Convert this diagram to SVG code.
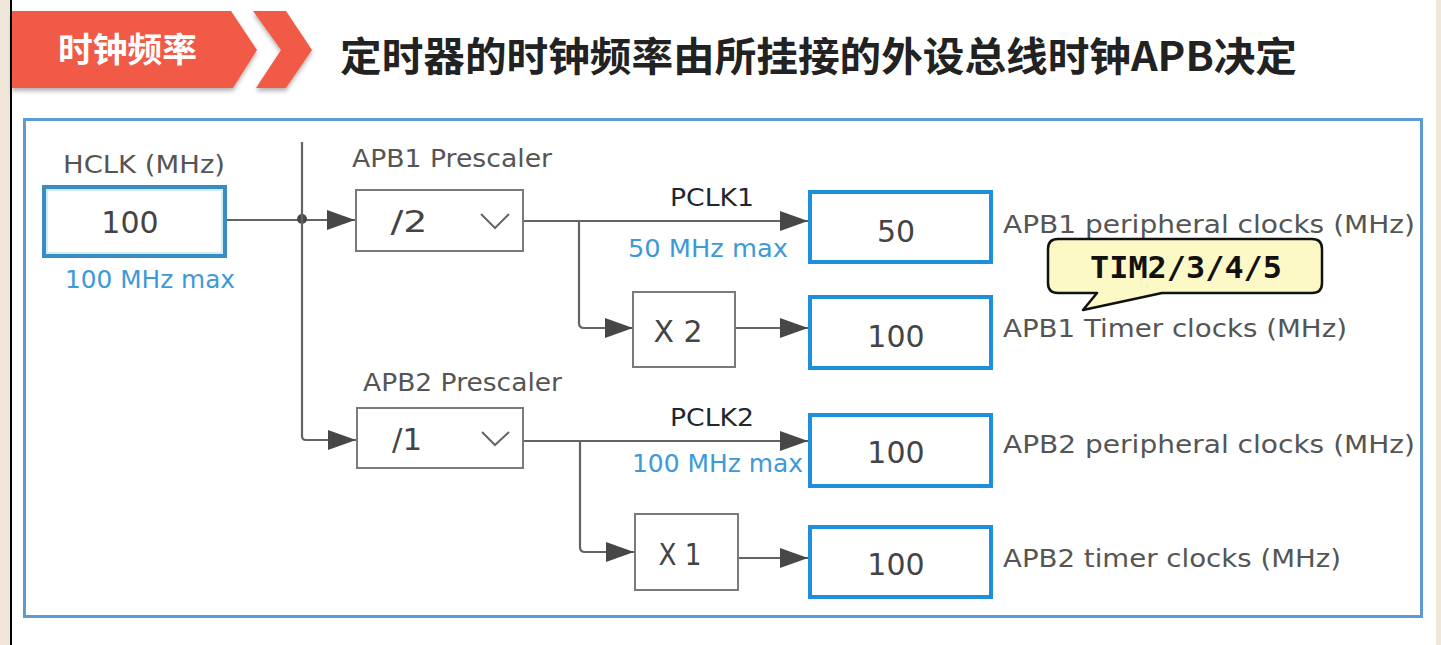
<svg xmlns="http://www.w3.org/2000/svg" width="1441" height="645" viewBox="0 0 1441 645">
<style>
.lbl{font-family:"DejaVu Sans","Liberation Sans",sans-serif;font-size:24px;fill:#555;}
.val{font-family:"DejaVu Sans","Liberation Sans",sans-serif;font-size:30px;fill:#444;text-anchor:middle;}
.blue{font-family:"DejaVu Sans","Liberation Sans",sans-serif;font-size:24px;fill:#3d9ad6;}
.pclk{font-family:"DejaVu Sans","Liberation Sans",sans-serif;font-size:25px;fill:#1e2833;}
.gbox{fill:#fff;stroke:#7a7a7a;stroke-width:2;}
.obox{fill:#fff;stroke:#1e8fdc;stroke-width:4;}
.wire{fill:none;stroke:#636363;stroke-width:2.2;}
.chev{fill:none;stroke:#666;stroke-width:2;}
</style>
<defs>
<marker id="arr" markerUnits="userSpaceOnUse" markerWidth="28" markerHeight="20" refX="28" refY="10" orient="auto">
<path d="M0,0 L28,10 L0,20 Z" fill="#474747"/>
</marker>
<filter id="sh" x="-10%" y="-10%" width="120%" height="140%">
<feDropShadow dx="0" dy="3" stdDeviation="2" flood-color="#000" flood-opacity="0.3"/>
</filter>
</defs>
<rect width="1441" height="645" fill="#fff"/>
<rect x="0" y="0" width="10" height="645" fill="#efe8da"/>
<line x1="11" y1="0" x2="11" y2="645" stroke="#000" stroke-width="2"/>
<rect x="1436" y="0" width="5" height="645" fill="#efe8da"/>

<g id="header">
<path d="M12,11 L231,11 L257,50 L233,88 L12,88 Z" fill="#f05a46" filter="url(#sh)"/>
<path d="M253,11 L286,11 L312,50 L286,88 L256,88 L281,50 Z" fill="#f05a46" filter="url(#sh)"/>
<text x="58" y="62" font-family="'Noto Sans CJK SC',sans-serif" font-weight="bold" font-size="34" fill="#fff" textLength="139" lengthAdjust="spacingAndGlyphs">时钟频率</text>
</g>
<text id="title" x="340" y="71" font-family="'Noto Sans CJK SC',sans-serif" font-weight="bold" font-size="40" fill="#222" textLength="957" lengthAdjust="spacingAndGlyphs">定时器的时钟频率由所挂接的外设总线时钟APB决定</text>

<rect id="frame" x="24.5" y="119.5" width="1397" height="497" fill="none" stroke="#5b9bd5" stroke-width="3"/>

<g id="connectors">
<path class="wire" d="M227,220 L355,220" marker-end="url(#arr)"/>
<circle cx="302" cy="219" r="5" fill="#474747"/>
<path class="wire" d="M302,142 L302,436 Q302,440 306,440 L356,440" marker-end="url(#arr)"/>
<path class="wire" d="M523,221 L808,221" marker-end="url(#arr)"/>
<path class="wire" d="M579,221 L579,323 Q579,328 584,328 L633,328" marker-end="url(#arr)"/>
<path class="wire" d="M735,328 L808,328" marker-end="url(#arr)"/>
<path class="wire" d="M523,441 L808,441" marker-end="url(#arr)"/>
<path class="wire" d="M580,441 L580,547 Q580,552 585,552 L634,552" marker-end="url(#arr)"/>
<path class="wire" d="M738,558 L808,558" marker-end="url(#arr)"/>
</g>

<g id="hclk">
<text class="lbl" x="63" y="173" textLength="162" lengthAdjust="spacingAndGlyphs">HCLK (MHz)</text>
<rect x="44" y="187" width="181" height="69" fill="#fff" stroke="#3a8cc4" stroke-width="4"/>
<rect x="47" y="190" width="175" height="63" fill="none" stroke="#bfe8f6" stroke-width="1.5"/>
<text class="val" x="130" y="233">100</text>
<text class="blue" x="65" y="288" textLength="170" lengthAdjust="spacingAndGlyphs">100 MHz max</text>
</g>

<g id="apb1_prescaler">
<text class="lbl" x="352" y="167" textLength="200" lengthAdjust="spacingAndGlyphs">APB1 Prescaler</text>
<rect class="gbox" x="356" y="190" width="167" height="61"/>
<text class="val" x="409" y="232" textLength="37" lengthAdjust="spacingAndGlyphs">/2</text>
<path class="chev" d="M481,214 L495,228 L509,214"/>
</g>

<g id="apb2_prescaler">
<text class="lbl" x="363" y="391" textLength="199" lengthAdjust="spacingAndGlyphs">APB2 Prescaler</text>
<rect class="gbox" x="357" y="408" width="166" height="60"/>
<text class="val" x="407" y="450" textLength="30" lengthAdjust="spacingAndGlyphs">/1</text>
<path class="chev" d="M482,432 L495,445 L509,432"/>
</g>

<g id="pclk1_label">
<text class="pclk" x="670" y="206" textLength="84" lengthAdjust="spacingAndGlyphs">PCLK1</text>
<text class="blue" x="628" y="257" textLength="160" lengthAdjust="spacingAndGlyphs">50 MHz max</text>
</g>
<g id="pclk2_label">
<text class="pclk" x="670" y="426" textLength="84" lengthAdjust="spacingAndGlyphs">PCLK2</text>
<text class="blue" x="632" y="472" textLength="171" lengthAdjust="spacingAndGlyphs">100 MHz max</text>
</g>

<g id="x2">
<rect class="gbox" x="633" y="292" width="102" height="75"/>
<text class="val" x="678" y="342" font-size="28" textLength="49" lengthAdjust="spacingAndGlyphs">X 2</text>
</g>
<g id="x1">
<rect class="gbox" x="635" y="514" width="103" height="76"/>
<text class="val" x="680" y="565" font-size="28" textLength="43" lengthAdjust="spacingAndGlyphs">X 1</text>
</g>

<g id="apb1_periph">
<rect class="obox" x="810" y="192" width="181" height="70"/>
<text class="val" x="896" y="242">50</text>
<text class="lbl" x="1003" y="233" textLength="412" lengthAdjust="spacingAndGlyphs">APB1 peripheral clocks (MHz)</text>
</g>
<g id="apb1_timer">
<rect class="obox" x="810" y="297" width="181" height="71"/>
<text class="val" x="896" y="347">100</text>
<text class="lbl" x="1003" y="337" textLength="344" lengthAdjust="spacingAndGlyphs">APB1 Timer clocks (MHz)</text>
</g>
<g id="apb2_periph">
<rect class="obox" x="810" y="415" width="181" height="71"/>
<text class="val" x="896" y="463">100</text>
<text class="lbl" x="1003" y="453" textLength="412" lengthAdjust="spacingAndGlyphs">APB2 peripheral clocks (MHz)</text>
</g>
<g id="apb2_timer">
<rect class="obox" x="810" y="527" width="181" height="70"/>
<text class="val" x="896" y="575">100</text>
<text class="lbl" x="1003" y="567" textLength="338" lengthAdjust="spacingAndGlyphs">APB2 timer clocks (MHz)</text>
</g>

<g id="callout">
<path d="M1058,239 L1312,239 Q1322,239 1322,249 L1322,283 Q1322,293 1312,293 L1162,293 L1083,310 L1097,293 L1058,293 Q1048,293 1048,283 L1048,249 Q1048,239 1058,239 Z" fill="#fdf9c6" stroke="#111" stroke-width="2.5" stroke-linejoin="round"/>
<text x="1186" y="278" text-anchor="middle" font-family="'DejaVu Sans Mono','Liberation Mono',monospace" font-weight="bold" font-size="31" fill="#111" textLength="192" lengthAdjust="spacingAndGlyphs">TIM2/3/4/5</text>
</g>
</svg>
